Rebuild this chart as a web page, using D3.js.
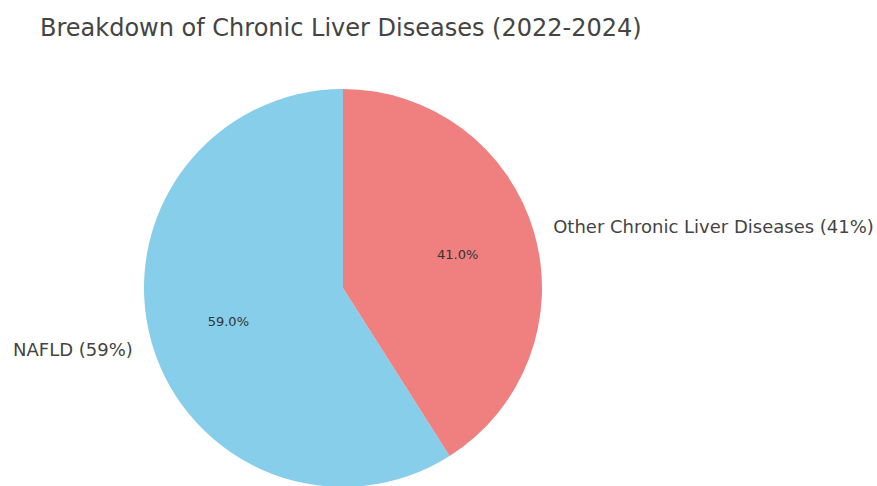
<!DOCTYPE html>
<html lang="en">
<head>
  <meta charset="UTF-8">
  <title>Breakdown of Chronic Liver Diseases (2022-2024)</title>
  <script src="https://d3js.org/d3.v7.min.js"></script>
  <style>
    body { margin: 0; background: #fff; }
    svg { display: block; font-family: "DejaVu Sans", sans-serif; }
  </style>
</head>
<body>
  <div id="chart"></div>
  <script>
    // data
    const categories = ["NAFLD", "Other Chronic Liver Diseases"];
    const shares = [59, 41];
    const sliceLabels = ["NAFLD (59%)", "Other Chronic Liver Diseases (41%)"];
    const colors = ["#87CEEB", "#F08080"];

    const width = 877, height = 486;
    const cx = 343, cy = 288, r = 199;

    const svg = d3.select("#chart").append("svg")
      .attr("width", width)
      .attr("height", height);

    svg.append("text")
      .attr("x", 40)
      .attr("y", 36)
      .attr("font-size", 24)
      .attr("fill", "#444")
      .text("Breakdown of Chronic Liver Diseases (2022-2024)");

    const rows = categories.map((c, i) => ({ name: c, value: shares[i], label: sliceLabels[i], color: colors[i] }));

    // matplotlib: startangle 90, counterclockwise -> first slice goes to the left
    const pie = d3.pie()
      .value(d => d.value)
      .sort(null)
      .startAngle(2 * Math.PI)
      .endAngle(0);

    const arcs = pie(rows);
    const arc = d3.arc().innerRadius(0).outerRadius(r);

    const g = svg.append("g").attr("transform", `translate(${cx},${cy})`);

    g.selectAll("path")
      .data(arcs)
      .enter()
      .append("path")
      .attr("d", arc)
      .attr("fill", d => d.data.color);

    const mid = d => (d.startAngle + d.endAngle) / 2;

    // outer labels
    g.selectAll("text.lbl")
      .data(arcs)
      .enter()
      .append("text")
      .attr("class", "lbl")
      .attr("x", d => 1.1 * r * Math.sin(mid(d)))
      .attr("y", d => -1.1 * r * Math.cos(mid(d)))
      .attr("text-anchor", d => Math.sin(mid(d)) < 0 ? "end" : "start")
      .attr("dominant-baseline", "central")
      .attr("font-size", 18)
      .attr("fill", "#444")
      .text(d => d.data.label);

    // percent labels
    g.selectAll("text.pct")
      .data(arcs)
      .enter()
      .append("text")
      .attr("class", "pct")
      .attr("x", d => 0.6 * r * Math.sin(mid(d)))
      .attr("y", d => -0.6 * r * Math.cos(mid(d)))
      .attr("text-anchor", "middle")
      .attr("dominant-baseline", "central")
      .attr("font-size", 13)
      .attr("fill", "#333")
      .text(d => d.data.value.toFixed(1) + "%");
  </script>
</body>
</html>
